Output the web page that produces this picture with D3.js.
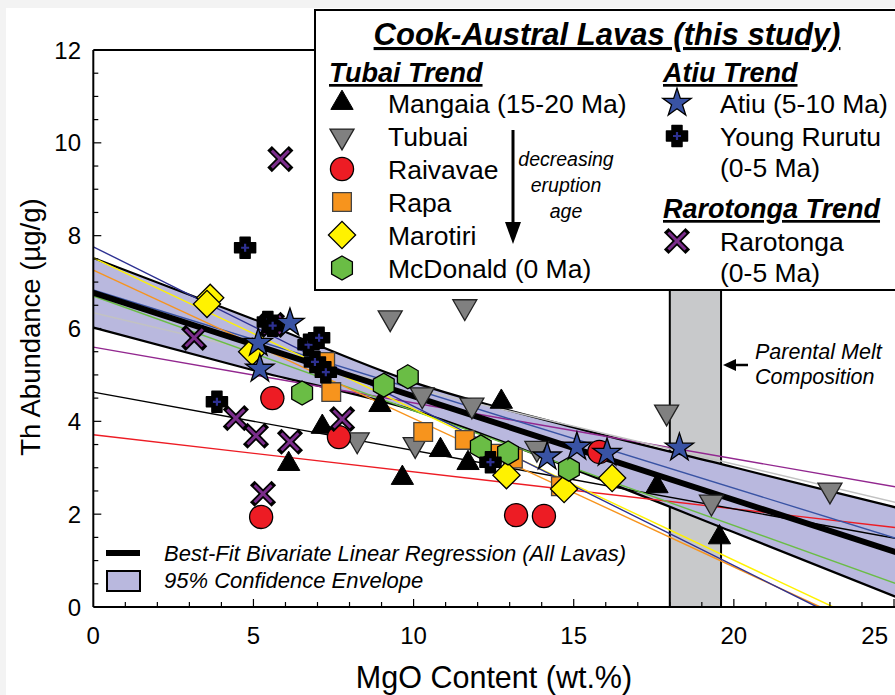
<!DOCTYPE html>
<html>
<head>
<meta charset="utf-8">
<script src="https://cdn.jsdelivr.net/npm/d3@7"></script>
<style>
  body { margin: 0; background: #f3f3f3; }
  svg { display: block; font-family: "Liberation Sans", Arial, sans-serif; }
</style>
</head>
<body>
<div id="chart"></div>
<script>
// ---- data (MgO wt.%, Th ug/g) ----
const mangaia   = [[6.1,3.08],[7.15,3.88],[8.95,4.35],[9.65,2.78],[10.84,3.38],[11.7,3.1],[12.74,4.42],[17.6,2.6],[19.55,1.5]];
const tubuai    = [[9.27,6.23],[11.6,6.47],[8.24,3.6],[10.05,3.5],[10.27,4.57],[11.82,4.35],[13.85,3.42],[17.9,4.2],[19.3,2.26],[23.0,2.52]];
const raivavae  = [[5.59,4.5],[5.24,1.94],[7.67,3.66],[13.2,1.98],[14.07,1.96],[15.8,3.34]];
const rapa      = [[7.43,4.63],[7.24,5.28],[10.3,3.77],[11.6,3.6],[12.45,3.3],[13.1,3.2],[14.6,2.6]];
const marotiri  = [[3.65,6.66],[3.55,6.53],[4.96,5.5],[12.9,2.84],[14.7,2.54],[16.2,2.78]];
const mcdonald  = [[6.52,4.61],[9.07,4.78],[9.82,4.96],[12.1,3.45],[12.95,3.32],[14.85,2.97]];
const atiu      = [[5.15,5.69],[5.2,5.13],[6.14,6.12],[14.17,3.24],[15.1,3.45],[16.04,3.32],[18.3,3.43]];
const rurutu    = [[4.74,7.74],[3.86,4.42],[5.45,6.14],[5.6,6.06],[6.72,5.65],[7.05,5.8],[6.92,5.28],[7.26,5.06],[12.4,3.12]];
const rarotonga = [[5.84,9.65],[3.15,5.8],[5.58,6.08],[4.45,4.07],[5.08,3.69],[6.14,3.56],[5.3,2.44],[7.77,4.05]];

// regression lines per island: [x0, y0, x1, y1]
const trendLines = [
  { name: 'Raivavae',  color: '#ed1c24', pts: [0, 3.71, 25.2, 1.70] },
  { name: 'Mangaia',   color: '#000000', pts: [0, 4.63, 25.2, 1.46] },
  { name: 'Rarotonga', color: '#92278f', pts: [0, 5.60, 25.2, 2.57] },
  { name: 'Tubuai',    color: '#c2c2c2', pts: [0, 6.34, 25.2, 2.23] },
  { name: 'McDonald',  color: '#6abd45', pts: [0, 6.70, 25.2, 0.47] },
  { name: 'Atiu',      color: '#3953a4', pts: [0, 6.83, 25.2, 1.45] },
  { name: 'Rapa',      color: '#f7941d', pts: [0, 7.26, 22.7, 0] },
  { name: 'Marotiri',  color: '#fff200', pts: [0, 7.52, 23.1, 0] },
  { name: 'Rurutu',    color: '#2e3192', pts: [0, 7.76, 22.6, 0] }
];
const bestFit = [0, 6.77, 25.2, 1.15];

// 95% confidence envelope
const envX     = [0, 5, 10, 15, 20, 25.2];
const envUpper = [7.52, 6.2, 4.84, 3.87, 3.01, 2.12];
const envLower = [6.02, 5.1, 4.24, 2.97, 1.61, 0.18];

// parental melt MgO band
const meltBand = [18.0, 19.6];

const xTicks = [0, 5, 10, 15, 20, 25];
const yTicks = [0, 2, 4, 6, 8, 10, 12];

// ---- layout ----
const W = 895, H = 695;
const svg = d3.select('#chart').append('svg').attr('width', W).attr('height', H);
svg.append('rect').attr('x', 6).attr('y', 8).attr('width', W).attr('height', H).attr('fill', '#fff');

const x = d3.scaleLinear().domain([0, 25]).range([93.3, 894]);
const y = d3.scaleLinear().domain([0, 12]).range([607, 50]);
const plotLeft = x(0), plotBottom = y(0), plotTop = y(12);

svg.append('clipPath').attr('id', 'plotClip')
  .append('rect').attr('x', plotLeft).attr('y', plotTop).attr('width', W - plotLeft).attr('height', plotBottom - plotTop);
const plot = svg.append('g').attr('clip-path', 'url(#plotClip)');

// gray parental melt band
plot.append('rect')
  .attr('x', x(meltBand[0])).attr('y', 290)
  .attr('width', x(meltBand[1]) - x(meltBand[0])).attr('height', plotBottom - 290)
  .attr('fill', '#c8c9cb').attr('stroke', '#000').attr('stroke-width', 2);

// envelope
const envData = envX.map((v, i) => ({ x: v, hi: envUpper[i], lo: envLower[i] }));
plot.append('path').datum(envData)
  .attr('d', d3.area().x(d => x(d.x)).y0(d => y(d.lo)).y1(d => y(d.hi)).curve(d3.curveMonotoneX))
  .attr('fill', '#b9b8de');
['hi', 'lo'].forEach(k => {
  plot.append('path').datum(envData)
    .attr('d', d3.line().x(d => x(d.x)).y(d => y(d[k])).curve(d3.curveMonotoneX))
    .attr('fill', 'none').attr('stroke', '#000').attr('stroke-width', 2.2);
});

// island trend lines
trendLines.forEach(t => {
  plot.append('line')
    .attr('x1', x(t.pts[0])).attr('y1', y(t.pts[1]))
    .attr('x2', x(t.pts[2])).attr('y2', y(t.pts[3]))
    .attr('stroke', t.color).attr('stroke-width', 1.4);
});
plot.append('line')
  .attr('x1', x(bestFit[0])).attr('y1', y(bestFit[1]))
  .attr('x2', x(bestFit[2])).attr('y2', y(bestFit[3]))
  .attr('stroke', '#000').attr('stroke-width', 6);

// ---- marker shapes ----
function hexPath(r) {
  const p = d3.range(6).map(i => {
    const a = Math.PI / 180 * (60 * i - 90);
    return [r * Math.cos(a), r * Math.sin(a)];
  });
  return 'M' + p.map(q => q.join(',')).join('L') + 'Z';
}
function plusPath(a, b) {
  return `M${-b},${-a}H${b}V${-b}H${a}V${b}H${b}V${a}H${-b}V${b}H${-a}V${-b}H${-b}Z`;
}
const triUp = d3.symbol(d3.symbolTriangle, 215)();
const triDown = d3.symbol(d3.symbolTriangle, 250)();
const circ = d3.symbol(d3.symbolCircle, 420)();
const sq = d3.symbol(d3.symbolSquare, 350)();
const dia = d3.symbol(d3.symbolSquare, 370)();
const star = d3.symbol(d3.symbolStar, 250)();

function drawShape(g, kind) {
  if (kind === 'tri') g.append('path').attr('d', triUp).attr('fill', '#000').attr('stroke', '#000').attr('stroke-width', 1);
  if (kind === 'tridown') g.append('path').attr('d', triDown).attr('transform', 'rotate(180)').attr('fill', '#808080').attr('stroke', '#222').attr('stroke-width', 1.3);
  if (kind === 'circle') g.append('path').attr('d', circ).attr('fill', '#ed1c24').attr('stroke', '#000').attr('stroke-width', 1.3);
  if (kind === 'square') g.append('path').attr('d', sq).attr('fill', '#f7941d').attr('stroke', '#444').attr('stroke-width', 1.3);
  if (kind === 'diamond') g.append('path').attr('d', dia).attr('transform', 'rotate(45)').attr('fill', '#fff200').attr('stroke', '#000').attr('stroke-width', 1.3);
  if (kind === 'hex') g.append('path').attr('d', hexPath(12)).attr('fill', '#6abd45').attr('stroke', '#000').attr('stroke-width', 1.3);
  if (kind === 'star') g.append('path').attr('d', star).attr('fill', '#3953a4').attr('stroke', '#000').attr('stroke-width', 1.3);
  if (kind === 'plus') {
    g.append('path').attr('d', plusPath(10.5, 5)).attr('fill', '#000').attr('stroke', '#000').attr('stroke-width', 1.5).attr('stroke-linejoin', 'round');
    g.append('path').attr('d', plusPath(4, 1.1)).attr('fill', '#2e3192');
  }
  if (kind === 'x') {
    const s = 8.5;
    [[-s, -s, s, s], [-s, s, s, -s]].forEach(c => {
      g.append('line').attr('x1', c[0]).attr('y1', c[1]).attr('x2', c[2]).attr('y2', c[3])
        .attr('stroke', '#000').attr('stroke-width', 6.5).attr('stroke-linecap', 'square');
    });
    [[-s, -s, s, s], [-s, s, s, -s]].forEach(c => {
      g.append('line').attr('x1', c[0]).attr('y1', c[1]).attr('x2', c[2]).attr('y2', c[3])
        .attr('stroke', '#7b2d8b').attr('stroke-width', 3);
    });
  }
}

const groups = [
  [tubuai, 'tridown'], [mangaia, 'tri'], [raivavae, 'circle'], [rapa, 'square'],
  [marotiri, 'diamond'], [mcdonald, 'hex'], [rarotonga, 'x'], [rurutu, 'plus'], [atiu, 'star']
];
const pts = svg.append('g');
groups.forEach(([data, kind]) => {
  pts.selectAll(null).data(data).enter().append('g')
    .attr('transform', d => `translate(${x(d[0])},${y(d[1])})`)
    .each(function () { drawShape(d3.select(this), kind); });
});

// ---- axes ----
const axes = svg.append('g').attr('stroke', '#000');
axes.append('line').attr('x1', plotLeft).attr('x2', W).attr('y1', plotBottom).attr('y2', plotBottom).attr('stroke-width', 2);
axes.append('line').attr('x1', plotLeft).attr('x2', plotLeft).attr('y1', plotTop).attr('y2', plotBottom).attr('stroke-width', 2);
axes.append('line').attr('x1', plotLeft).attr('x2', 316).attr('y1', plotTop).attr('y2', plotTop).attr('stroke-width', 2);
d3.range(1, 26).forEach(v => {
  const L = v % 5 === 0 ? 8 : 5;
  axes.append('line').attr('x1', x(v)).attr('x2', x(v)).attr('y1', plotBottom).attr('y2', plotBottom - L).attr('stroke-width', 1.2);
});
d3.range(0.5, 12, 0.5).forEach(v => {
  const L = v % 2 === 0 ? 8 : 5;
  axes.append('line').attr('x1', plotLeft).attr('x2', plotLeft + L).attr('y1', y(v)).attr('y2', y(v)).attr('stroke-width', 1.2);
});

svg.selectAll('text.xt').data(xTicks).enter().append('text')
  .attr('x', d => x(d)).attr('y', 644)
  .attr('text-anchor', d => d === 25 ? 'end' : 'middle')
  .attr('dx', d => d === 25 ? -6 : 0)
  .style('font-size', '24px').text(d => d);
svg.selectAll('text.yt').data(yTicks).enter().append('text')
  .attr('x', 81).attr('y', d => y(d) + 8.5)
  .attr('text-anchor', 'end')
  .style('font-size', '24px').text(d => d);

svg.append('text').attr('x', 494).attr('y', 688).attr('text-anchor', 'middle')
  .style('font-size', '30.5px').text('MgO Content (wt.%)');
svg.append('text').attr('transform', `translate(40, 327) rotate(-90)`).attr('text-anchor', 'middle')
  .style('font-size', '27.5px').text('Th Abundance (µg/g)');

// ---- bottom-left legend ----
svg.append('line').attr('x1', 106).attr('x2', 140).attr('y1', 553).attr('y2', 553).attr('stroke', '#000').attr('stroke-width', 6);
svg.append('text').attr('x', 164).attr('y', 561).style('font-size', '22px').style('font-style', 'italic')
  .text('Best-Fit Bivariate Linear Regression (All Lavas)');
svg.append('rect').attr('x', 107).attr('y', 571).attr('width', 33).attr('height', 20)
  .attr('fill', '#b9b8de').attr('stroke', '#000').attr('stroke-width', 2);
svg.append('text').attr('x', 164).attr('y', 588).style('font-size', '22px').style('font-style', 'italic')
  .text('95% Confidence Envelope');

// ---- parental melt note ----
svg.append('line').attr('x1', 748).attr('x2', 734).attr('y1', 365).attr('y2', 365).attr('stroke', '#000').attr('stroke-width', 2.5);
svg.append('path').attr('d', 'M723,365L736,359L736,371Z').attr('fill', '#000');
svg.append('text').attr('x', 755).attr('y', 359).style('font-size', '21.5px').style('font-style', 'italic').text('Parental Melt');
svg.append('text').attr('x', 755).attr('y', 384).style('font-size', '21.5px').style('font-style', 'italic').text('Composition');

// ---- main legend box ----
const lg = svg.append('g');
lg.append('rect').attr('x', 315).attr('y', 10).attr('width', 600).attr('height', 280)
  .attr('fill', '#fff').attr('stroke', '#000').attr('stroke-width', 2);

function heading(tx, ty, size, label, anchor) {
  lg.append('text').attr('x', tx).attr('y', ty).attr('text-anchor', anchor || 'start')
    .style('font-size', size).style('font-weight', 'bold').style('font-style', 'italic')
    .style('text-decoration', 'underline').text(label);
}
heading(607, 45, '31px', 'Cook-Austral Lavas (this study)', 'middle');
heading(329, 82, '27px', 'Tubai Trend');
heading(663, 82, '27px', 'Atiu Trend');
heading(663, 218, '27px', 'Rarotonga Trend');

const leftItems = [
  ['tri', 'Mangaia (15-20 Ma)'], ['tridown', 'Tubuai'], ['circle', 'Raivavae'],
  ['square', 'Rapa'], ['diamond', 'Marotiri'], ['hex', 'McDonald (0 Ma)']
];
leftItems.forEach((it, i) => {
  const ry = 103 + i * 33;
  const g = lg.append('g').attr('transform', `translate(342,${ry})`);
  drawShape(g, it[0]);
  lg.append('text').attr('x', 388).attr('y', ry + 9.5).style('font-size', '26.5px').text(it[1]);
});
const rightItems = [
  ['star', 103, ['Atiu (5-10 Ma)']],
  ['plus', 136, ['Young Rurutu', '(0-5 Ma)']],
  ['x', 241, ['Rarotonga', '(0-5 Ma)']]
];
rightItems.forEach(it => {
  const g = lg.append('g').attr('transform', `translate(677,${it[1]})`);
  drawShape(g, it[0]);
  it[2].forEach((s, j) => {
    lg.append('text').attr('x', 720).attr('y', it[1] + 9.5 + j * 31).style('font-size', '26.5px').text(s);
  });
});

// decreasing age arrow
lg.append('line').attr('x1', 513).attr('x2', 513).attr('y1', 130).attr('y2', 228).attr('stroke', '#000').attr('stroke-width', 3);
lg.append('path').attr('d', 'M513,244L505,222L521,222Z').attr('fill', '#000');
['decreasing', 'eruption', 'age'].forEach((s, i) => {
  lg.append('text').attr('x', 566).attr('y', 166 + i * 26).attr('text-anchor', 'middle')
    .style('font-size', '19.5px').style('font-style', 'italic').text(s);
});
</script>
</body>
</html>
